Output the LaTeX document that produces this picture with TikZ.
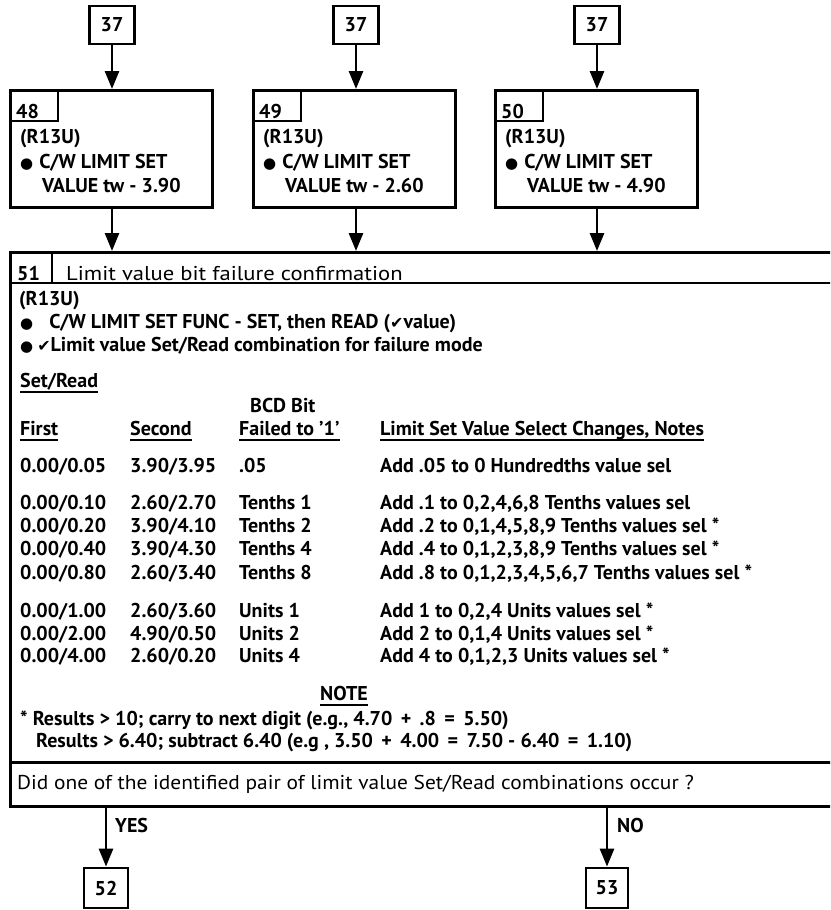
\documentclass[tikz,border=0pt]{standalone}
\usepackage{fontspec}
\setmainfont{PT Sans}
\newfontfamily\regfam{PT Sans}[FakeStretch=1.07]
\newfontfamily\hdrfam{PT Sans}[FakeStretch=1.13]
\newfontfamily\symf{DejaVu Sans}
\usetikzlibrary{arrows.meta,calc}
\newcommand\bodyf{\fontsize{20}{24}\selectfont\bfseries}
\newcommand\regf{\fontsize{20}{24}\selectfont\regfam}
\newcommand\hdrf{\fontsize{20}{24}\selectfont\hdrfam}
\newcommand\bigf{\fontsize{20}{24}\selectfont\bfseries}
\newcommand\bul{{\symf\fontsize{15}{15}\selectfont ●}}
\newcommand\chk{{\symf\fontsize{16}{16}\selectfont ✔}}
\begin{document}
\begin{tikzpicture}[x=1pt,y=-1pt,
  box/.style={draw,line width=2.8pt,inner sep=0pt},
  refbox/.style={draw,line width=2.8pt,minimum width=45pt,minimum height=38pt,inner sep=0pt,font=\bigf},
  txt/.style={anchor=base west,inner sep=0pt,font=\bodyf},
  rtxt/.style={anchor=base west,inner sep=0pt,font=\regf},
  arr/.style={line width=2.8pt,-{Triangle[width=14pt,length=18pt]}},
  thin/.style={line width=1.8pt},
  uline/.style={line width=2pt}]
\useasboundingbox (0,0) rectangle (830,910);
\clip (0,0) rectangle (830,910);
\fill[white] (0,0) rectangle (830,910);

% reference boxes 37
\node[refbox] (t1) at (112,25) {37};
\node[refbox] (t2) at (356,25) {37};
\node[refbox] (t3) at (597,25) {37};

% boxes 48-50
\node[box,anchor=north west,minimum width=202pt,minimum height=117pt] (b48) at (9,89) {};
\node[box,anchor=north west,minimum width=202pt,minimum height=117pt] (b49) at (252,89) {};
\node[box,anchor=north west,minimum width=202pt,minimum height=117pt] (b50) at (494,89) {};

\foreach \b/\n/\v in {b48/48/3.90,b49/49/2.60,b50/50/4.90}{
  \draw[thin] ($(\b.north west)+(49,0)$) -- ($(\b.north west)+(49,32)$) -- ($(\b.north west)+(0,32)$);
  \node[txt,font=\bigf] (\b n) at ($(\b.north west)+(7,29)$) {\n};
  \node[txt,font=\bigf] (\b r) at ($(\b.north west)+(11,54)$) {(R13U)};
  \node[txt,font=\bigf] (\b c) at ($(\b.north west)+(11,79)$) {\bul\hspace{6pt}C/W LIMIT SET};
  \node[txt,font=\bigf] (\b v) at ($(\b.north west)+(33,103)$) {VALUE tw - \v};
}

% big box 51
\node[box,anchor=north west,minimum width=840pt,minimum height=554pt] (b51) at (9,251) {};
\draw[thin] ($(b51.north west)+(43,0)$) -- ($(b51.north west)+(43,32)$);
\draw[line width=2.8pt] ($(b51.north west)+(0,32)$) -- ($(b51.north east)+(0,32)$);
\draw[line width=2.8pt] ($(b51.south west)+(0,-45)$) -- ($(b51.south east)+(0,-45)$);

\node[txt] (h51) at (17,280) {51};
\node[anchor=base west,inner sep=0pt,font=\hdrf] (h51t) at (66,280) {Limit value bit failure confirmation};
\node[txt] (p1) at (19,305) {(R13U)};
\node[txt] (p2) at (20,328) {\bul\hspace{16pt}C/W LIMIT SET FUNC - SET, then READ (\chk value)};
\node[txt] (p3) at (20,351) {\bul\hspace{4pt}\chk Limit value Set/Read combination for failure mode};
\node[txt] (sr) at (20,387) {Set/Read};
\node[txt] (bcd) at (250,412) {BCD Bit};
\node[txt] (hf) at (20,435) {First};
\node[txt] (hs) at (130,435) {Second};
\node[txt] (hb) at (239,435) {Failed to '1'};
\node[txt] (hl) at (380,435) {Limit Set Value Select Changes, Notes};
\foreach \n in {sr,hf,hs,hb,hl}{
  \draw[uline] ($(\n.base west)+(0,5)$) -- ($(\n.base east)+(0,5)$);
}

% table rows
\node[txt] (r1a) at (20,472) {0.00/0.05};
\node[txt] (r1b) at (130,472) {3.90/3.95};
\node[txt] (r1c) at (239,472) {.05};
\node[txt] (r1d) at (380,472) {Add .05 to 0 Hundredths value sel};

\node[txt] (r2a) at (20,509) {0.00/0.10};
\node[txt] (r2b) at (130,509) {2.60/2.70};
\node[txt] (r2c) at (239,509) {Tenths 1};
\node[txt] (r2d) at (380,509) {Add .1 to 0,2,4,6,8 Tenths values sel};

\node[txt] (r3a) at (20,532) {0.00/0.20};
\node[txt] (r3b) at (130,532) {3.90/4.10};
\node[txt] (r3c) at (239,532) {Tenths 2};
\node[txt] (r3d) at (380,532) {Add .2 to 0,1,4,5,8,9 Tenths values sel *};

\node[txt] (r4a) at (20,555) {0.00/0.40};
\node[txt] (r4b) at (130,555) {3.90/4.30};
\node[txt] (r4c) at (239,555) {Tenths 4};
\node[txt] (r4d) at (380,555) {Add .4 to 0,1,2,3,8,9 Tenths values sel *};

\node[txt] (r5a) at (20,579) {0.00/0.80};
\node[txt] (r5b) at (130,579) {2.60/3.40};
\node[txt] (r5c) at (239,579) {Tenths 8};
\node[txt] (r5d) at (380,579) {Add .8 to 0,1,2,3,4,5,6,7 Tenths values sel *};

\node[txt] (r6a) at (20,617) {0.00/1.00};
\node[txt] (r6b) at (130,617) {2.60/3.60};
\node[txt] (r6c) at (239,617) {Units 1};
\node[txt] (r6d) at (380,617) {Add 1 to 0,2,4 Units values sel *};

\node[txt] (r7a) at (20,640) {0.00/2.00};
\node[txt] (r7b) at (130,640) {4.90/0.50};
\node[txt] (r7c) at (239,640) {Units 2};
\node[txt] (r7d) at (380,640) {Add 2 to 0,1,4 Units values sel *};

\node[txt] (r8a) at (20,662) {0.00/4.00};
\node[txt] (r8b) at (130,662) {2.60/0.20};
\node[txt] (r8c) at (239,662) {Units 4};
\node[txt] (r8d) at (380,662) {Add 4 to 0,1,2,3 Units values sel *};

\node[txt,anchor=base] (note) at (344,700) {NOTE};
\draw[uline] ($(note.base west)+(0,5)$) -- ($(note.base east)+(0,5)$);
\node[txt] (n1) at (20,725) {* Results > 10; carry to next digit (e.g., 4.70 \,+\, .8 \,=\, 5.50)};
\node[txt] (n2) at (36,747) {Results > 6.40; subtract 6.40 (e.g , 3.50 \,+\, 4.00 \,=\, 7.50 - 6.40 \,=\, 1.10)};

\node[rtxt] (q) at (17,789) {Did one of the identified pair of limit value Set/Read combinations occur ?};

% exits
\node[refbox,minimum width=44pt,minimum height=40pt] (e52) at (106,888) {52};
\node[refbox,minimum width=42pt,minimum height=40pt] (e53) at (607,888) {53};

% arrows
\foreach \t/\b in {t1/b48,t2/b49,t3/b50}{
  \draw[arr] (\t.south) -- (\t.south |- \b.north);
  \draw[arr] (\t.south |- \b.south) -- (\t.south |- b51.north);
}
\draw[arr] (b51.south -| e52) -- (e52.north);
\draw[arr] (b51.south -| e53) -- (e53.north);
\node[txt] (yes) at (115,832) {YES};
\node[txt] (no) at (617,832) {NO};
\end{tikzpicture}
\end{document}
